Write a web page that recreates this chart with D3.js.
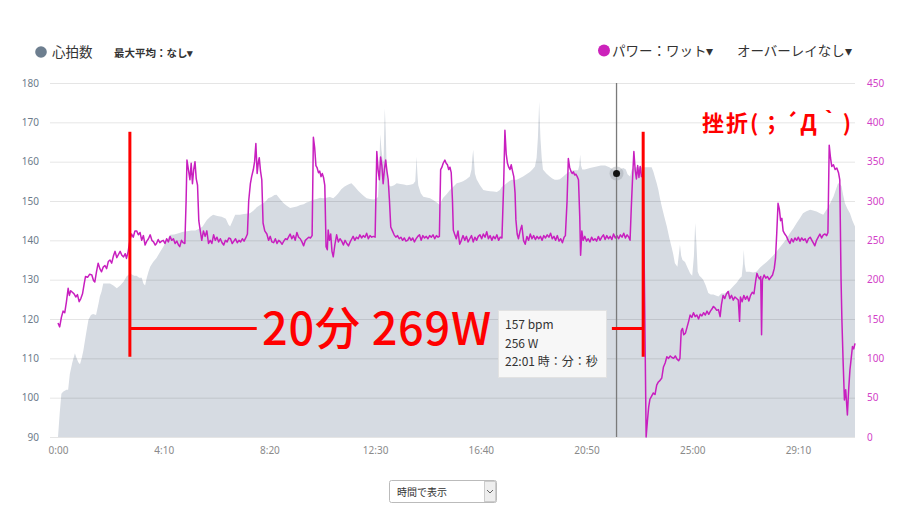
<!DOCTYPE html>
<html><head><meta charset="utf-8">
<script src="https://cdn.jsdelivr.net/npm/d3@7"></script>
<style>
body{margin:0;background:#fff;}
text{font-family:"Noto Sans CJK JP","Noto Sans",sans-serif;}
</style></head>
<body><svg id="c" width="900" height="514"></svg>
<script>
// ---- data ----
const hrTicks = [90,100,110,120,130,140,150,160,170,180];
const powerTicks = [0,50,100,150,200,250,300,350,400,450];
const timeTicks = [0,250,500,750,1000,1250,1500,1750];
const totalSeconds = 1885;

// heart rate (seconds, bpm)
const heartRate = [[0,90],[2,93],[4,96],[8,101],[12,101.5],[20,102],[24,102],[28,106],[34,109],[40,111.3],[44,110],[48,109],[52,108.5],[56,110],[60,112],[66,116],[72,119.8],[78,121],[83,121.3],[90,121],[96,124],[99,125.7],[103,127],[107,129],[115,129],[123,129],[131,128.5],[139,127.8],[147,128.5],[155,129.5],[162,130.8],[168,131.4],[174,131.4],[180,131],[186,131],[192,130.5],[198,130.5],[202,129],[206,128.5],[210,130.5],[214,132],[218,133.3],[225,134.5],[233,135.5],[241,137],[249,138.4],[257,140],[265,141.4],[275,141.5],[285,141.8],[296,142.2],[305,142.3],[315,142.5],[325,142.5],[335,143],[342,143.5],[352,145.2],[360,146],[367,146.5],[377,146.2],[387,146],[397,145.5],[403,144],[407,143.5],[413,145],[419,146.5],[430,146.5],[440,146.7],[454,146.9],[462,147.5],[470,148.4],[478,149],[486,149.5],[492,150],[497,150.7],[505,151],[512,151.5],[517,151.6],[525,150.5],[533,149.5],[541,148.8],[549,148.2],[557,148.4],[565,148.6],[573,149],[581,149.2],[588,149.6],[596,149.9],[604,150.3],[612,150.5],[620,150.8],[627,150.7],[635,150.8],[643,151],[651,150.7],[657,151.3],[663,152],[670,153],[677,153.6],[683,154],[689,154.3],[694,154.5],[702,153.6],[710,152.6],[718,151.8],[724,151.2],[730,150.7],[738,150.5],[746,150.4],[752,150.6],[757,151],[760,158],[762,167],[765,163],[768,160.5],[770,160],[772,170],[773,173.6],[775,168],[777,160],[779,156],[783,154],[787,153.7],[795,154],[801,154.5],[810,154.3],[818,154.2],[825,154],[833,154.1],[840,154.3],[845,155],[847,159],[848,161.3],[850,157],[852,154],[858,152],[864,151.1],[872,150.9],[880,150.7],[888,150.2],[896,149.6],[903,149],[907,150],[911,150.8],[919,151.7],[927,152.8],[935,153.6],[943,154.5],[950,154.7],[958,155],[966,155.5],[974,156.2],[978,158],[980,161],[982,163],[984,160],[986,157],[990,155.5],[998,154],[1006,152.8],[1014,152.6],[1022,152.5],[1030,152.4],[1038,152.3],[1045,152.8],[1049,153.5],[1055,154],[1061,154.5],[1067,155],[1073,155.4],[1079,155.4],[1085,155.4],[1092,155.8],[1100,156.2],[1108,156.8],[1116,157.4],[1122,158],[1128,158.8],[1132,161],[1135,166],[1137,172],[1138,175.3],[1139,172],[1141,166],[1144,161],[1147,158],[1155,157],[1163,156.2],[1169,155.7],[1175,155.4],[1181,155.4],[1187,155.5],[1195,156.2],[1203,157],[1211,157.5],[1219,157.8],[1225,157.8],[1230,157.8],[1233,159],[1235,161.8],[1237,159],[1240,158],[1246,158],[1252,158.2],[1258,158.4],[1266,158.6],[1274,158.8],[1284,159],[1294,159],[1304,158.6],[1314,157.8],[1322,157],[1330,158],[1337,158.4],[1343,158],[1347,156.8],[1353,156.2],[1357,158],[1363,158.5],[1371,158.6],[1383,158.6],[1393,158.6],[1404,158.6],[1408,157.5],[1412,156],[1416,154.5],[1420,152.8],[1424,150.5],[1428,148.6],[1434,146],[1440,143.5],[1446,140.5],[1451,138.4],[1455,136.5],[1459,134.2],[1465,133.3],[1468,136],[1471,138.9],[1474,136],[1477,135],[1483,134.5],[1489,133],[1495,131.6],[1500,131],[1504,136],[1507,144.4],[1510,139],[1513,132],[1517,131],[1522,130.5],[1526,130],[1532,128.5],[1538,126.6],[1544,126.2],[1550,126.2],[1556,126],[1562,125.7],[1569,126.5],[1577,126.5],[1583,127],[1589,127.4],[1597,128.3],[1605,129.2],[1613,130.4],[1617,130.8],[1620,134],[1622,137.6],[1624,134],[1627,132],[1636,132],[1644,131.8],[1652,132],[1660,133],[1668,133.8],[1676,134.5],[1684,135.3],[1692,136.2],[1700,137.2],[1708,138.3],[1716,139.4],[1724,140.5],[1731,141.8],[1739,143],[1747,144.4],[1755,145.7],[1762,146.9],[1770,147.4],[1779,147.8],[1786,147.6],[1794,147.3],[1802,146.9],[1810,146.5],[1816,147.5],[1822,148.5],[1828,149.8],[1834,151.1],[1840,153],[1845,154.5],[1849,154.3],[1853,153.8],[1857,151.5],[1861,149.5],[1867,148],[1873,146.9],[1879,145],[1885,143.5]];

// power (seconds, watts)
const power = [[0,145],[4,140],[8,152],[12,160],[16,158],[20,172],[24,189],[27,180],[30,186],[34,184],[38,182],[42,178],[46,181],[50,172],[54,176],[58,182],[62,195],[65,204],[70,203],[75,207],[80,206],[84,199],[87,197],[91,210],[95,221],[99,214],[103,210],[107,216],[111,218],[115,214],[119,223],[123,225],[127,221],[131,230],[135,236],[139,228],[143,232],[147,236],[151,231],[155,229],[159,233],[162,227],[166,236],[170,250],
[174,258],[178,254],[182,262],[186,262],[190,257],[194,260],[198,250],[202,256],[206,244],[210,249],[214,252],[218,257],[222,250],[226,248],[230,244],[233,246],[237,251],[241,247],[245,249],[249,250],[253,246],[257,252],[261,248],[265,255],[269,250],[273,252],[277,246],[281,249],[285,244],[288,242],[292,250],[296,247],[300,246],
[303,300],[305,352],[309,338],[312,327],[315,348],[318,322],[321,340],[324,350],[327,328],[330,320],[333,275],[336,264],[340,250],[344,262],[348,255],[352,262],[356,246],[360,250],[364,246],[368,257],[372,250],[376,254],[380,248],[384,252],[388,247],[392,244],[396,250],[400,248],[404,253],[408,252],[412,246],[416,249],[420,252],[424,247],[428,250],[432,248],[436,252],[440,249],[444,253],[448,258],
[451,300],[455,322],[458,331],[462,340],[465,350],[468,373],[471,335],[474,350],[476,355],[479,338],[482,327],[485,272],[489,262],[494,258],[498,250],[502,255],[506,248],[510,247],[514,252],[518,246],[522,250],[526,248],[530,245],[534,249],[538,252],[542,251],[546,255],[549,258],[553,252],[557,256],[561,250],[565,260],[569,254],[573,252],[577,248],[581,243],[585,250],[589,252],[593,254],[597,253],[601,256],
[604,381],[607,368],[610,345],[613,342],[616,336],[619,338],[622,331],[625,335],[628,330],[631,320],[634,242],[637,238],[639,263],[642,250],[645,258],[648,236],[651,229],[655,245],[659,257],[663,248],[667,252],[671,249],[675,244],[679,250],[683,246],[687,243],[691,248],[695,252],[698,255],[702,250],[706,254],[710,252],[714,257],[718,253],[722,256],[726,254],[730,259],[734,252],[738,256],[742,254],[746,255],[750,254],
[754,363],[757,340],[760,327],[763,356],[766,345],[769,322],[772,340],[775,352],[778,338],[781,327],[784,300],[787,267],[791,262],[795,257],[799,254],[803,256],[807,252],[811,254],[815,250],[819,253],[823,249],[827,250],[831,254],[835,250],[839,253],[843,248],[847,252],[851,255],[855,257],[859,250],[863,256],[867,253],[871,255],[875,252],[879,256],[883,254],[887,257],[891,252],[895,256],[899,254],[902,255],
[905,340],[908,343],[911,348],[915,352],[918,348],[921,346],[924,340],[927,343],[930,336],[933,300],[935,263],[938,258],[942,252],[946,262],[950,245],[954,250],[958,256],[962,250],[966,255],[970,248],[974,252],[978,256],[982,248],[986,254],[990,250],[994,255],[998,257],[1002,252],[1006,258],[1010,254],[1014,261],[1018,252],[1022,256],[1026,250],[1030,255],[1034,252],[1038,257],[1042,250],[1046,254],[1050,253],
[1054,320],[1057,390],[1060,360],[1063,348],[1066,343],[1069,340],[1072,346],[1075,338],[1078,331],[1081,310],[1083,276],[1086,258],[1089,252],[1093,262],[1097,269],[1101,250],[1105,245],[1109,255],[1113,250],[1117,258],[1121,252],[1125,256],[1129,251],[1133,255],[1137,252],[1141,255],[1145,250],[1149,256],[1153,253],[1157,257],[1161,254],[1165,259],[1169,252],[1173,255],[1177,250],[1181,256],[1185,249],[1189,252],[1193,247],[1197,254],[1200,256],
[1204,300],[1207,354],[1210,343],[1213,338],[1216,335],[1219,337],[1222,333],[1225,334],[1228,331],[1231,327],[1234,280],[1236,231],[1239,262],[1242,250],[1246,255],[1250,249],[1254,252],[1258,248],[1262,254],[1266,250],[1270,252],[1274,249],[1278,255],[1282,250],[1286,254],[1290,257],[1294,251],[1298,256],[1302,252],[1306,255],[1310,251],[1314,258],[1318,253],[1322,256],[1326,252],[1330,257],[1334,254],[1338,259],[1342,253],[1346,257],[1350,254],[1353,250],
[1356,293],[1359,330],[1362,363],[1365,340],[1368,328],[1371,345],[1374,330],[1377,344],[1380,331],[1384,331],[1388,150],[1391,0],[1394,20],[1397,38],[1400,48],[1404,52],[1408,56],[1412,54],[1416,66],[1420,70],[1424,72],[1428,75],[1432,89],[1436,94],[1440,102],[1444,100],[1448,103],[1452,101],[1456,100],[1460,103],[1464,99],[1468,97],[1471,100],[1474,135],[1477,138],[1480,130],[1484,132],[1488,140],[1492,148],[1495,155],[1499,152],[1503,158],[1507,153],[1511,155],[1515,150],[1519,156],[1523,154],[1527,158],[1531,155],[1535,160],[1539,156],[1543,160],[1547,163],[1550,166],[1554,164],[1558,161],[1562,162],[1566,153],[1569,168],[1573,180],[1577,176],[1581,182],[1585,185],[1589,176],[1593,180],[1597,174],[1601,178],[1605,176],[1609,174],[1612,147],[1614,178],[1618,172],[1622,180],[1626,175],[1630,179],[1634,173],[1638,180],[1642,184],[1646,182],[1650,198],[1653,208],[1656,204],[1659,201],[1662,204],[1664,130],[1666,200],[1670,206],[1674,202],[1678,204],[1682,200],[1686,203],[1690,206],[1694,214],[1697,227],[1700,260],[1703,297],[1706,290],[1709,275],[1712,278],[1715,262],[1719,258],[1723,255],[1727,250],[1731,246],[1735,252],[1739,248],[1743,253],[1747,250],[1751,254],[1755,249],[1759,253],[1763,250],[1767,252],[1771,247],[1775,252],[1779,254],[1783,250],[1787,246],[1790,243],[1794,250],[1798,254],[1802,258],[1806,253],[1810,257],[1814,258],[1818,256],[1821,260],[1824,371],[1827,355],[1830,344],[1834,346],[1838,340],[1842,342],[1846,336],[1849,327],[1852,200],[1854,149],[1857,94],[1860,47],[1863,60],[1867,28],[1870,60],[1873,85],[1876,100],[1879,115],[1882,112],[1885,119]];

const cursorTime = 1321, cursorBpm = 157, cursorWatts = 256;
const tooltipLines = ["157 bpm", "256 W", "22:01 時：分：秒"];
// annotation bracket (seconds / bpm)
const bracketStart = 170, bracketEnd = 1384, bracketTop = 167.6, bracketBottom = 110.4, bracketMid = 117.6;
const bracketGapStart = 470, bracketGapEnd = 1310;
const annoMain = "20分 269W";
const annoFail = "挫折(；´Д｀)";

// ---- drawing ----
const svg = d3.select("#c");
const x = d3.scaleLinear().domain([0, totalSeconds]).range([58, 855]);
const yL = d3.scaleLinear().domain([90, 180]).range([437, 83]);
const yR = d3.scaleLinear().domain([0, 450]).range([437, 83]);

const fmt = d => Math.floor(d/60) + ":" + String(d%60).padStart(2,"0");

// HR area
svg.append("path").datum(heartRate)
  .attr("fill", "#d6dbe2")
  .attr("d", d3.area().x(d => x(d[0])).y0(yL(90)).y1(d => yL(d[1])));

// left axis with grid
const gl = svg.append("g").attr("transform", "translate(855,0)")
  .call(d3.axisLeft(yL).tickValues(hrTicks).tickSize(805).tickPadding(11));
gl.select(".domain").remove();
gl.selectAll("line").attr("stroke", "#000").attr("stroke-opacity", 0.1);
gl.selectAll("text").attr("fill", "#6d7b8a").attr("font-size", 10).style("font-family", "'Noto Sans',sans-serif");

// right axis
const gr = svg.append("g").attr("transform", "translate(855,0)")
  .call(d3.axisRight(yR).tickValues(powerTicks).tickSize(0).tickPadding(12));
gr.select(".domain").remove();
gr.selectAll("text").attr("fill", "#d23fc8").attr("font-size", 10).style("font-family", "'Noto Sans',sans-serif");

// bottom axis
const gb = svg.append("g").attr("transform", "translate(0,437)")
  .call(d3.axisBottom(x).tickValues(timeTicks).tickFormat(fmt).tickSize(0).tickPadding(10));
gb.select(".domain").remove();
gb.selectAll("text").attr("fill", "#8a8a8a").attr("font-size", 10).style("font-family", "'Noto Sans',sans-serif");

// power line
svg.append("path").datum(power)
  .attr("fill", "none").attr("stroke", "#c81fbf").attr("stroke-width", 1.5)
  .attr("stroke-linejoin", "round")
  .attr("d", d3.line().x(d => x(d[0])).y(d => yR(d[1])));

// cursor
svg.append("line").attr("x1", x(cursorTime)).attr("x2", x(cursorTime))
  .attr("y1", yL(180)).attr("y2", yL(90)).attr("stroke", "#7a7a7a").attr("stroke-width", 1.3);
svg.append("circle").attr("cx", x(cursorTime)).attr("cy", yL(cursorBpm)).attr("r", 7).attr("fill", "#9aa0a8").attr("opacity", 0.4);
svg.append("circle").attr("cx", x(cursorTime)).attr("cy", yL(cursorBpm)).attr("r", 3.5).attr("fill", "#111");

// red bracket annotation
const red = "#ff0000";
const ann = svg.append("g").attr("stroke", red).attr("stroke-width", 3);
ann.append("line").attr("x1", x(bracketStart)).attr("x2", x(bracketStart)).attr("y1", yL(bracketTop)).attr("y2", yL(bracketBottom));
ann.append("line").attr("x1", x(bracketEnd)).attr("x2", x(bracketEnd)).attr("y1", yL(bracketTop)).attr("y2", yL(bracketBottom));
ann.append("line").attr("x1", x(bracketStart)).attr("x2", x(bracketGapStart)).attr("y1", yL(bracketMid)).attr("y2", yL(bracketMid));
ann.append("line").attr("x1", x(bracketGapEnd)).attr("x2", x(bracketEnd)).attr("y1", yL(bracketMid)).attr("y2", yL(bracketMid));
svg.append("text").attr("x", 262).attr("y", 345).attr("fill", red)
  .attr("font-size", 45).attr("font-weight", 500).attr("letter-spacing", 0.8).text(annoMain);
svg.append("text").attr("x", 853).attr("y", 131).attr("text-anchor", "end").attr("fill", red)
  .attr("font-size", 22).attr("font-weight", 700).attr("letter-spacing", 2).text(annoFail);

// tooltip
const tt = svg.append("g");
tt.append("rect").attr("x", 498.5).attr("y", 310.5).attr("width", 108).attr("height", 67)
  .attr("fill", "#f7f7f7").attr("stroke", "#e2e2e2");
tooltipLines.forEach((t, i) => tt.append("text").attr("x", 505).attr("y", 329 + i*18.5)
  .attr("fill", "#333").attr("font-size", 12).text(t));

// legends
svg.append("circle").attr("cx", 41).attr("cy", 52).attr("r", 5.8).attr("fill", "#6d7e8f");
svg.append("text").attr("x", 52).attr("y", 57).attr("font-size", 13.5).attr("fill", "#333").text("心拍数");
svg.append("text").attr("x", 114).attr("y", 57).attr("font-size", 10.5).attr("font-weight", 700).attr("fill", "#333").text("最大平均：なし▾");
svg.append("circle").attr("cx", 604).attr("cy", 50.5).attr("r", 6).attr("fill", "#cc22bb");
svg.append("text").attr("x", 612).attr("y", 56).attr("font-size", 13.5).attr("fill", "#333").text("パワー：ワット▾");
svg.append("text").attr("x", 737).attr("y", 56).attr("font-size", 13.5).attr("fill", "#333").text("オーバーレイなし▾");

// dropdown
const dd = svg.append("g");
dd.append("rect").attr("x", 389.5).attr("y", 480.5).attr("width", 107).attr("height", 22).attr("rx", 2)
  .attr("fill", "#fff").attr("stroke", "#bbb");
dd.append("rect").attr("x", 484.5).attr("y", 481.5).attr("width", 11).attr("height", 20)
  .attr("fill", "#eee").attr("stroke", "#ccc");
dd.append("path").attr("d", "M487,490 L490,493 L493,490").attr("fill", "none").attr("stroke", "#666");
dd.append("text").attr("x", 397).attr("y", 495.5).attr("font-size", 10).attr("fill", "#333").text("時間で表示");
</script></body></html>
